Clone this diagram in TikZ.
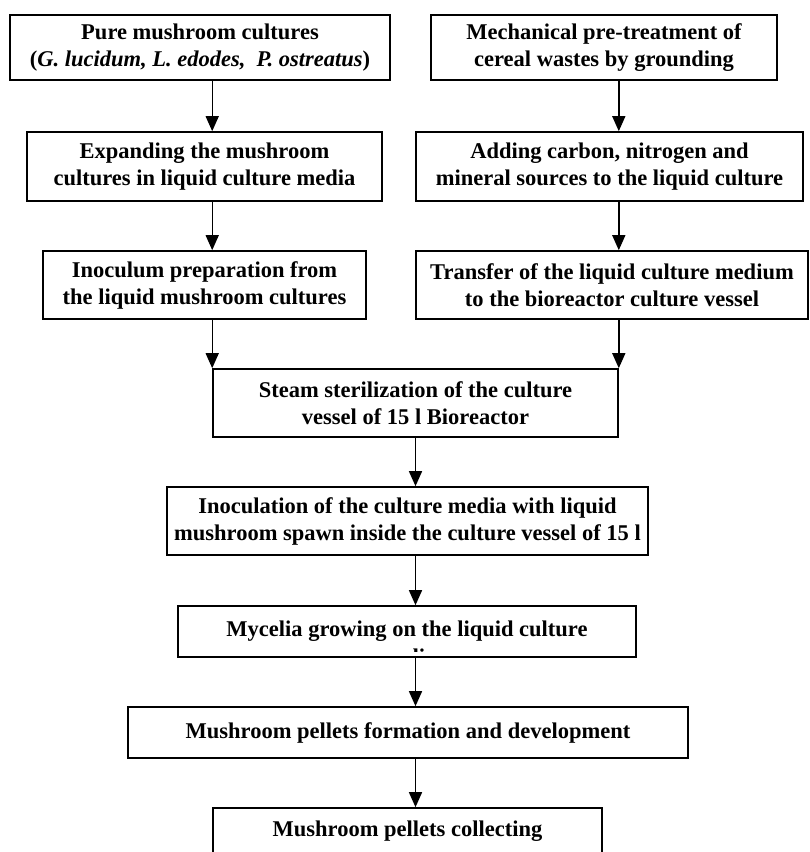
\documentclass[tikz,border=0pt]{standalone}
\usepackage{fontspec}
\setmainfont{Liberation Serif}
\usetikzlibrary{arrows.meta}

\begin{document}
\begin{tikzpicture}[x=1pt,y=-1pt,
        stage/.style={draw, line width=1.6pt, align=center, inner sep=0pt,
            font=\fontsize{22.5}{27}\selectfont\bfseries},
        flow/.style={-{Triangle[width=13pt,length=15pt]}, line width=1.4pt}]
            \useasboundingbox (0,0) rectangle (810,852);
            % upper two columns
            \node [stage, minimum width=380, minimum height=65] (pure) at (200,47.5)
                {Pure mushroom cultures\\(\textit{G. lucidum, L. edodes,\ \ P. ostreatus})};
            \node [stage, minimum width=346, minimum height=65] (mech) at (604,47.5)
                {Mechanical pre-treatment of\\cereal wastes by grounding};
            \node [stage, minimum width=355, minimum height=69] (expand) at (204.5,166.5)
                {Expanding the mushroom\\cultures in liquid culture media};
            \node [stage, minimum width=387, minimum height=69] (adding) at (609.5,166.5)
                {Adding carbon, nitrogen and\\mineral sources to the liquid culture};
            \node [stage, minimum width=323, minimum height=68] (inoc) at (204.5,285)
                {Inoculum preparation from\\the liquid mushroom cultures};
            \node [stage, minimum width=392, minimum height=68] (transfer) at (612,285)
                {Transfer of the liquid culture medium\\to the bioreactor culture vessel};
            % main line
            \node [stage, minimum width=405, minimum height=68] (steam) at (415.5,403)
                {Steam sterilization of the culture\\vessel of 15 l Bioreactor};
            \node [stage, minimum width=481, minimum height=68] (inocul) at (407.5,521)
                {Inoculation of the culture media with liquid\\mushroom spawn inside the culture vessel of 15 l};
            \node [stage, minimum width=458, minimum height=51] (mycel) at (407,631.5)
                {Mycelia growing on the liquid culture};
            \begin{scope}
                \clip (mycel.north west) rectangle ([yshift=6pt]mycel.south east);
                \node [stage, draw=none, anchor=base] (mycelmore) at (407,664) {media};
            \end{scope}
            \node [stage, minimum width=560, minimum height=51] (pellets) at (408,732.5)
                {Mushroom pellets formation and development};
            \node [stage, minimum width=389, minimum height=46] (collect) at (407.5,831)
                {Mushroom pellets collecting};
            % arrows
            \draw [flow] (pure.south -| steam.west) -- (expand.north -| steam.west);
            \draw [flow] (mech.south -| steam.east) -- (adding.north -| steam.east);
            \draw [flow] (expand.south -| steam.west) -- (inoc.north -| steam.west);
            \draw [flow] (adding.south -| steam.east) -- (transfer.north -| steam.east);
            \draw [flow] (inoc.south -| steam.west) -- (steam.north west);
            \draw [flow] (transfer.south -| steam.east) -- (steam.north east);
            \draw [flow] (steam.south) -- (inocul.north -| steam.south);
            \draw [flow] (inocul.south -| steam.south) -- (mycel.north -| steam.south);
            \draw [flow] (mycel.south -| steam.south) -- (pellets.north -| steam.south);
            \draw [flow] (pellets.south -| steam.south) -- (collect.north -| steam.south);
        \end{tikzpicture}
\end{document}
